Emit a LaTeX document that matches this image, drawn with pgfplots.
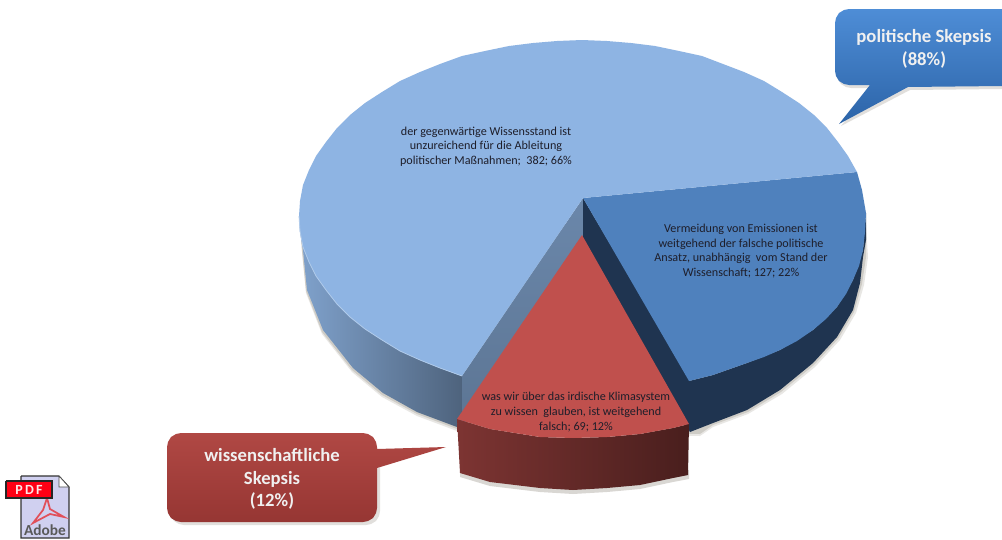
\documentclass[border=0pt]{standalone}
\usepackage{fontspec}
\setmainfont{Carlito}
\usepackage{pgfplots}
\pgfplotsset{compat=1.18}
\definecolor{lighttop}{HTML}{8EB4E3}
\definecolor{bluetop}{HTML}{4F81BD}
\definecolor{bluewall}{HTML}{1F3450}
\definecolor{redtop}{HTML}{C0504D}
\definecolor{textdark}{HTML}{1E1E2A}
\definecolor{shadowc}{HTML}{6A6050}

\begin{document}
\begin{tikzpicture}
\begin{axis}[
  scale only axis,
  width=751.5pt, height=404.25pt,
  xmin=0, xmax=1002, ymin=0, ymax=539,
  y dir=reverse,
  hide axis,
  every axis plot/.append style={draw=none, forget plot},
]
% page background
\addplot[fill=white] coordinates {(0,0) (1002,0) (1002,539) (0,539)};

% soft shadow under the pie
\addplot[fill=shadowc, opacity=0.15] coordinates {
  (300,225) (302,252) (306,293) (322,334) (352,372) (382,397) (417,416) (457,431)
  (700,436) (713,427) (748,414) (782,394) (815,367) (840,340) (856,313) (864,285) (868,257) (866,225)};
\addplot[fill=shadowc, opacity=0.2] coordinates {
  (300,225) (302,251) (306,291) (322,332) (352,370) (382,395) (417,414) (457,429)
  (700,434) (713,425) (748,412) (781,392) (814,365) (838,339) (854,312) (862,284) (866,257) (866,225)};
\addplot[fill=shadowc, opacity=0.25] coordinates {
  (460,470) (460,477) (490,486) (540,492) (573,494) (607,492) (640,489) (673,482) (689,479) (689,470)};

% outer wall, light slice
\addplot[shade, shading=axis, left color=lighttop!90!black, right color=lighttop!55!black] coordinates {
  (299,216) (300,231) (303,247) (309,262) (316,276) (326,290) (337,304) (350,317) (365,329) (382,340)
  (400,351) (420,360) (440,368) (462,376)
  (462,428) (457,427) (417,412) (383,393) (353,368) (323,330) (307,290) (303,250) (300,232)};
% inner wall, light slice
\addplot[shade, shading=axis, shading angle=20, top color=lighttop!75!black, bottom color=lighttop!65!black] coordinates {
  (583,198) (462,376) (462,428) (583,250)};
% walls, blue slice
\addplot[fill=bluewall] coordinates {
  (583,198) (690,380) (690,432) (583,250)};
\addplot[fill=bluewall] coordinates {
  (689,381) (713,375) (747,363) (780,350) (813,330) (837,307) (853,280) (863,250) (866,213)
  (866,240) (863,257) (860,283) (853,310) (837,337) (813,363) (780,390) (747,410) (713,423) (690,432)};
% top faces, blue and light
\addplot[fill=bluetop] coordinates {
  (583,198) (857,172) (862,190) (866,213) (865,232) (863,250) (859,266) (853,280) (846,294) (837,307)
  (826,319) (813,330) (797,341) (780,350) (764,357) (747,363) (713,375) (689,381)};
\addplot[fill=lighttop] coordinates {
  (583,198) (462,376) (440,368) (420,360) (400,351) (382,340) (365,329) (350,317) (337,304) (326,290)
  (316,276) (309,262) (303,247) (300,231) (299,216) (300,201) (303,185) (309,170) (316,156) (326,142)
  (337,128) (350,115) (365,103) (382,92) (400,81) (420,72) (440,64) (462,56) (485,51) (509,46) (533,43)
  (557,41) (582,40) (607,41) (631,43) (655,46) (679,51) (702,56) (723,64) (744,72) (764,81) (782,92)
  (799,103) (814,115) (827,128) (838,142) (848,156) (857,172)};
\addplot[draw=lighttop!70!white, line width=0.6pt] coordinates {
  (299,216) (300,231) (303,247) (309,262) (316,276) (326,290) (337,304) (350,317) (365,329) (382,340)
  (400,351) (420,360) (440,368) (462,376)};

% red slice, wall then top
\addplot[shade, shading=axis, left color=redtop!65!black, right color=redtop!38!black] coordinates {
  (457,419) (490,429) (540,437) (573,438) (607,437) (640,434) (673,428) (689,424)
  (688,475) (673,478) (640,485) (607,488) (573,490) (540,488) (490,482) (460,473)};
\addplot[fill=redtop] coordinates {
  (582,235) (457,419) (490,429) (540,437) (573,438) (607,437) (640,434) (673,428) (689,424)};

% slice labels
\node[align=center, font=\fontsize{9.1pt}{11pt}\selectfont, text=textdark] at (axis cs:486,146.5)
  {der gegenwärtige Wissensstand ist\\unzureichend für die Ableitung\\politischer Maßnahmen;\ \ 382; 66\%};
\node[align=center, font=\fontsize{9.1pt}{11pt}\selectfont, text=textdark] at (axis cs:741,251)
  {Vermeidung von Emissionen ist\\weitgehend der falsche politische\\Ansatz, unabhängig\ \ vom Stand der\\Wissenschaft; 127; 22\%};
\node[align=center, font=\fontsize{9.1pt}{11pt}\selectfont, text=textdark] at (axis cs:576,412)
  {was wir über das irdische Klimasystem\\zu wissen\ \ glauben, ist weitgehend\\falsch; 69; 12\%};

% blue callout
\addplot[fill=shadowc, opacity=0.2] coordinates {
  (838,26) (1002,12) (1002,89) (910,90) (841,126) (872,88) (851,88) (846,87) (841,84) (838,79)};
\addplot[shade, shading=axis, top color={rgb,255:red,78;green,141;blue,214}, bottom color={rgb,255:red,44;green,100;blue,168}] coordinates {
  (835,23) (836,18) (839,13) (844,10) (849,9) (1002,9) (1002,86) (908,87) (839,124) (870,85)
  (849,85) (844,84) (839,81) (836,76) (835,71)};
\node[align=center, font=\fontsize{14pt}{17pt}\selectfont\bfseries, text=white!94!black] at (axis cs:924,49)
  {politische Skepsis\\(88\%)};

% red callout
\addplot[fill=shadowc, opacity=0.2] coordinates {
  (170,450) (380,450) (380,511) (379,516) (376,521) (371,524) (366,525) (184,525) (179,524) (174,521) (171,516) (170,511)};
\addplot[shade, shading=axis, top color={rgb,255:red,176;green,72;blue,68}, bottom color={rgb,255:red,150;green,54;blue,51}] coordinates {
  (167,447) (168,442) (171,437) (176,434) (181,433) (363,433) (368,434) (373,437) (376,442) (377,447)
  (377,449) (446,447) (377,468)
  (377,508) (376,513) (373,518) (368,521) (363,522) (181,522) (176,521) (171,518) (168,513) (167,508)};
\node[align=center, font=\fontsize{14pt}{17pt}\selectfont\bfseries, text=white!94!black] at (axis cs:272,479)
  {wissenschaftliche\\Skepsis\\(12\%)};

% pdf icon
\addplot[fill={rgb,255:red,208;green,208;blue,240}, draw=black!80, line width=0.8pt] coordinates {
  (21,476) (59,476) (69,487) (69,538) (21,538) (21,476)};
\addplot[fill=white, draw=black!70, line width=0.5pt] coordinates {(59,476) (59,487) (69,487) (59,476)};
\addplot[draw={rgb,255:red,225;green,80;blue,90}, line width=1.3pt] coordinates {
  (47,498) (50,509) (64,517) (50,514) (33,523) (43,510) (47,498)};
\addplot[fill={rgb,255:red,255;green,0;blue,20}, draw=black!85, line width=0.8pt] coordinates {
  (6,481) (52,481) (52,498) (6,498) (6,481)};
\node[font=\fontsize{10.5pt}{10pt}\selectfont\bfseries, text=white!90!red] at (axis cs:29,489.5) {P\,D\,F};
\node[font=\fontsize{11.5pt}{10pt}\selectfont\bfseries, text=black!65] at (axis cs:45,530) {Adobe};
\end{axis}
\end{tikzpicture}
\end{document}
